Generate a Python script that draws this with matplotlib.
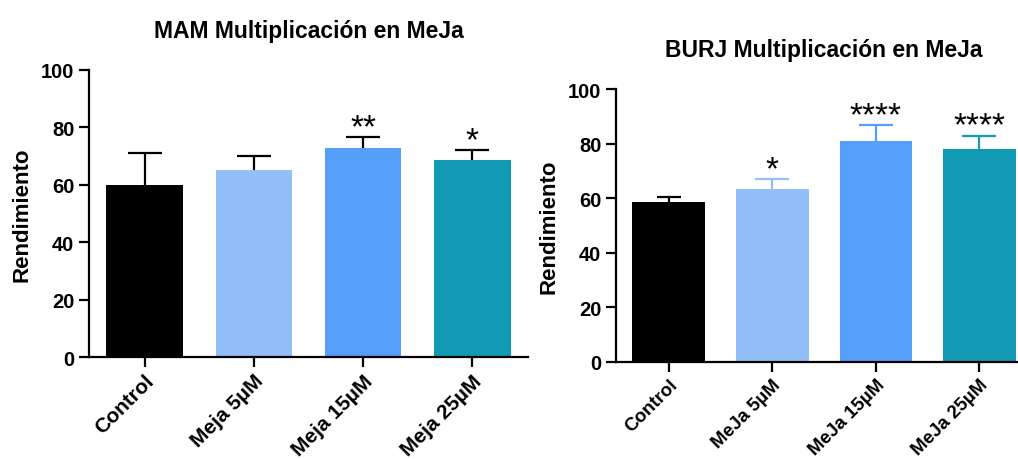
import matplotlib
matplotlib.use("Agg")
import matplotlib.pyplot as plt

plt.rcParams["font.family"] = ["Liberation Sans", "DejaVu Sans"]
plt.rcParams["font.weight"] = "bold"

# MAM panel
mam_labels = ["Control", "Meja 5µM", "Meja 15µM", "Meja 25µM"]
mam_means = [60, 65.2, 72.9, 68.6]
mam_sem = [11.0, 4.8, 3.7, 3.4]
mam_stars = ["", "", "**", "*"]

# BURJ panel
burj_labels = ["Control", "MeJa 5µM", "MeJa 15µM", "MeJa 25µM"]
burj_means = [58.5, 63.3, 80.8, 78.0]
burj_sem = [2.0, 3.6, 5.9, 4.8]
burj_stars = ["", "*", "****", "****"]

bar_colors = ["#000000", "#93bff8", "#559ffb", "#1299b3"]


def draw_panel(ax, labels, means, sem, stars, title, err_colors, caps, xfs):
    x = range(len(labels))
    ax.bar(x, means, width=0.7, color=bar_colors, edgecolor="none", zorder=2)
    for i in x:
        eb = ax.errorbar(i, means[i], yerr=[[0], [sem[i]]], fmt="none",
                         ecolor=err_colors[i], elinewidth=1.6, capsize=caps[i],
                         capthick=1.6, zorder=3)
        # only the upper cap is drawn
        eb.lines[1][0].set_visible(False)
        if stars[i]:
            ax.text(i, means[i] + sem[i] - 2.0, stars[i], ha="center",
                    va="bottom", fontsize=24, fontweight="normal")
    ax.set_xlim(-0.51, 3.51)
    ax.set_ylim(0, 100)
    ax.set_yticks([0, 20, 40, 60, 80, 100])
    ax.set_xticks(list(x))
    ax.set_xticklabels(labels, rotation=45, ha="right", rotation_mode="anchor",
                       fontsize=xfs)
    ax.tick_params(axis="y", labelsize=14.5, width=1.6, length=7)
    ax.tick_params(axis="x", width=1.6, length=7, pad=3)
    for s in ["top", "right"]:
        ax.spines[s].set_visible(False)
    for s in ["left", "bottom"]:
        ax.spines[s].set_linewidth(1.6)
    ax.set_ylabel("Rendimiento", fontsize=16, fontweight="bold", labelpad=6)
    ax.set_title(title, fontsize=16.5, fontweight="bold", pad=24)


fig = plt.figure(figsize=(10.18, 4.6), dpi=100)
ax1 = fig.add_axes([0.0874, 0.2217, 0.4313, 0.624])
ax2 = fig.add_axes([0.605, 0.2109, 0.409, 0.5934])

draw_panel(ax1, mam_labels, mam_means, mam_sem, mam_stars,
           "MAM Multiplicación en MeJa", ["black"] * 4, [12, 12, 12, 12], 15)
draw_panel(ax2, burj_labels, burj_means, burj_sem, burj_stars,
           "BURJ Multiplicación en MeJa", bar_colors, [8.5, 12, 12, 12], 13.5)

fig.savefig("out.png", dpi=100)
